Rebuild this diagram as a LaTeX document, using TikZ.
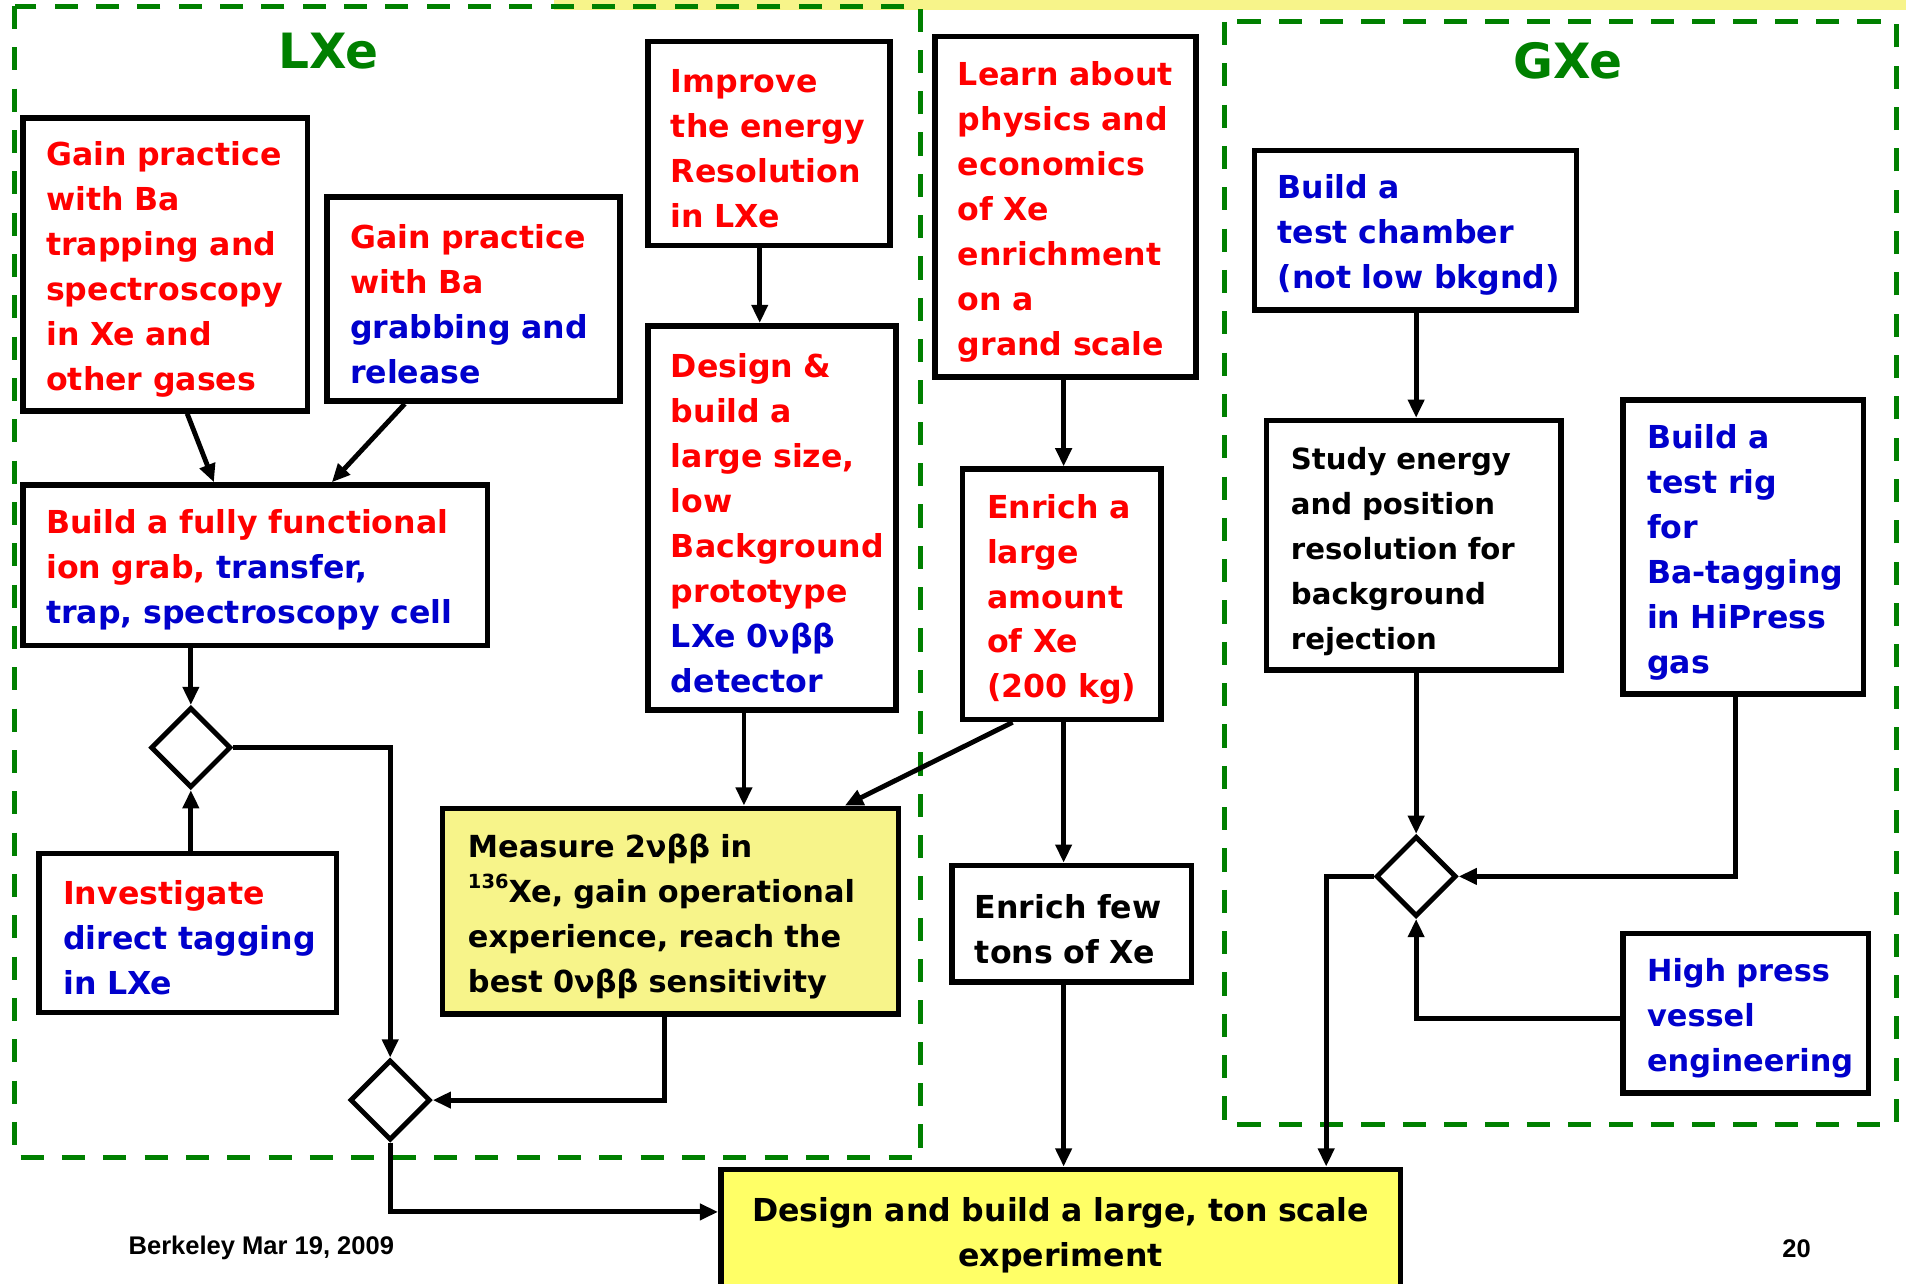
\documentclass[tikz,border=0pt]{standalone}
\usepackage{fontspec}
\setmainfont{DejaVu Sans}
\newfontfamily\footfont{Liberation Sans}
\usetikzlibrary{shapes.geometric,arrows.meta,calc}
\definecolor{myred}{RGB}{255,0,0}
\definecolor{myblue}{RGB}{0,0,204}
\definecolor{mygreen}{RGB}{0,128,0}
\definecolor{ylight}{RGB}{247,244,138}
\definecolor{ystrong}{RGB}{255,255,102}
\begin{document}
\begin{tikzpicture}[x=1pt,y=-1pt,
  bx/.style={draw=black, line width=4.5pt, align=left, inner ysep=0pt, text height=28pt,
    execute at begin node={\hyphenpenalty=10000\exhyphenpenalty=10000},
    font=\bfseries\fontsize{26}{37}\selectfont},
  arr/.style={line width=4pt, -{Triangle[length=15pt,width=13pt]}},
  dia/.style={diamond, draw, line width=4pt, minimum width=66pt, minimum height=66pt, inner sep=0pt, aspect=1},
  gdash/.style={draw=mygreen, line width=4pt, dash pattern=on 19pt off 15pt},
  ttl/.style={text=mygreen, font=\bfseries\fontsize{40}{40}\selectfont}
]
\useasboundingbox (0,0) rectangle (1568,1056);
\fill[ylight] (456,0) rectangle (1568,8);
\draw[gdash] (12,5) rectangle (757,952);
\draw[gdash] (1007,18) rectangle (1560,925);
\node[ttl] (lxe) at (270,42) {LXe};
\node[ttl] (gxe) at (1290,50) {GXe};

% LXe boxes
\node[bx, text=myred, text width=196pt, inner xsep=19pt, minimum height=241pt] (A) at (136,217.5)
 {Gain~practice\\with~Ba\\trapping~and\\spectroscopy\\in~Xe~and\\other~gases};
\node[bx, text=myred, text width=203pt, inner xsep=19pt, minimum height=168pt] (B) at (389.5,246)
 {Gain~practice\\with~Ba\\\textcolor{myblue}{grabbing~and}\\\textcolor{myblue}{release}};
\node[bx, text=myred, text width=344pt, inner xsep=19pt, minimum height=132pt] (C) at (210,465)
 {Build~a~fully~functional\\ion~grab,~\textcolor{myblue}{transfer,}\\\textcolor{myblue}{trap,~spectroscopy~cell}};
\node[bx, text=myred, text width=161pt, inner xsep=19pt, minimum height=168pt] (D) at (632.5,118)
 {Improve\\the~energy\\Resolution\\in~LXe};
\node[bx, text=myred, text width=166pt, inner xsep=19pt, minimum height=316pt] (E) at (635,426)
 {Design~\&\\build~a\\large~size,\\low\\Background\\prototype\\\textcolor{myblue}{LXe~0νββ}\\\textcolor{myblue}{detector}};
\node[bx, text=myred, text width=177pt, inner xsep=19pt, minimum height=280pt] (F) at (876.5,170)
 {Learn~about\\physics~and\\economics\\of~Xe\\enrichment\\on~a\\grand~scale};
\node[bx, text=myred, text width=123pt, inner xsep=20pt, minimum height=206pt] (G) at (873.5,489)
 {Enrich~a\\large\\amount\\of~Xe\\(200~kg)};
\node[bx, fill=ylight, text=black, text width=333pt, inner xsep=21pt, minimum height=169pt,
  font=\bfseries\fontsize{25}{37}\selectfont] (H) at (551.5,749.5)
 {Measure~2νββ~in\\\raisebox{0.45em}{\fontsize{16}{16}\selectfont 136}Xe,~gain~operational\\experience,~reach~the\\best~0νββ~sensitivity};
\node[bx, text=myred, text width=205pt, inner xsep=20pt, minimum height=131pt] (I) at (154.5,767.5)
 {Investigate\\\textcolor{myblue}{direct~tagging}\\\textcolor{myblue}{in~LXe}};
\node[bx, text=black, text width=159pt, inner xsep=19pt, minimum height=96pt] (J) at (881.5,760)
 {Enrich~few\\tons~of~Xe};

% GXe boxes
\node[bx, text=myblue, text width=227pt, inner xsep=19pt, minimum height=131pt] (K) at (1164.5,189.5)
 {Build~a\\test~chamber\\(not~low~bkgnd)};
\node[bx, text=black, text width=202pt, inner xsep=20pt, minimum height=205pt,
  font=\bfseries\fontsize{24}{37}\selectfont] (L) at (1163,448.5)
 {Study~energy\\and~position\\resolution~for\\background\\rejection};
\node[bx, text=myblue, text width=158pt, inner xsep=20pt, minimum height=242pt] (M) at (1434,450)
 {Build~a\\test~rig\\for\\Ba-tagging\\in~HiPress\\gas};
\node[bx, text=myblue, text width=162pt, inner xsep=20pt, minimum height=131pt,
  font=\bfseries\fontsize{25}{37}\selectfont] (N) at (1436,833.5)
 {High~press\\vessel\\engineering};

% final box
\node[bx, fill=ystrong, text=black, align=center, text width=519pt, inner xsep=20pt, minimum height=100pt] (O) at (872.5,1012)
 {Design~and~build~a~large,~ton~scale\\experiment};

% diamonds
\node[dia] (D1) at (157,615) {};
\node[dia] (D2) at (321,905) {};
\node[dia] (D3) at (1165,721) {};

% connectors
\draw[arr] (154,0 |- A.south) -- (176,0 |- C.north);
\draw[arr] (333,0 |- B.south) -- (273,0 |- C.north);
\draw[arr] (157,0 |- C.south) -- (D1.north);
\draw[arr] (157,0 |- I.north) -- (D1.south);
\draw[arr] (D1.east) -| (D2.north);
\draw[arr] (547,0 |- H.south) |- (D2.east);
\draw[arr] (D2.south) |- (O.west |- 0,997);
\draw[arr] (625,0 |- D.south) -- (625,0 |- E.north);
\draw[arr] (612,0 |- E.south) -- (612,0 |- H.north);
\draw[arr] (833,0 |- G.south) -- (695,0 |- H.north);
\draw[arr] (875,0 |- F.south) -- (875,0 |- G.north);
\draw[arr] (875,0 |- G.south) -- (875,0 |- J.north);
\draw[arr] (875,0 |- J.south) -- (875,0 |- O.north);
\draw[arr] (1165,0 |- K.south) -- (1165,0 |- L.north);
\draw[arr] (1165,0 |- L.south) -- (D3.north);
\draw[arr] (1428,0 |- M.south) |- (D3.east);
\draw[arr] (N.west |- 0,838) -| (D3.south);
\draw[arr] (D3.west) -| (1091,0 |- O.north);

% footer
\node[font=\footfont\bfseries\fontsize{21}{21}\selectfont] (foot) at (215,1027) {Berkeley Mar 19, 2009};
\node[font=\footfont\bfseries\fontsize{21}{21}\selectfont] (pg) at (1478,1027) {20};
\end{tikzpicture}
\end{document}
